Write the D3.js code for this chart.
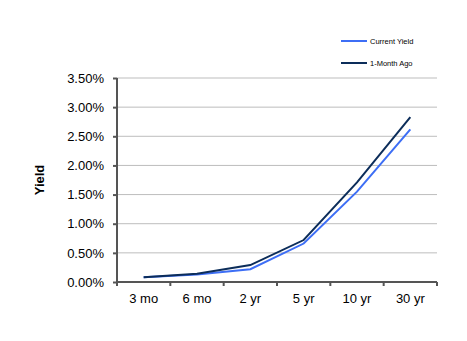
<!DOCTYPE html>
<html><head><meta charset="utf-8">
<script src="https://cdn.jsdelivr.net/npm/d3@7"></script>
<style>body{margin:0;background:#fff;}svg{display:block;font-family:"Liberation Sans",Arial,sans-serif;}</style>
</head><body><svg id="c" width="467" height="341"></svg>
<script>
const categories = ["3 mo","6 mo","2 yr","5 yr","10 yr","30 yr"];
const currentYield = [0.08,0.13,0.22,0.66,1.55,2.62];
const monthAgo = [0.08,0.14,0.29,0.72,1.71,2.83];
const yTicks = [0,0.5,1,1.5,2,2.5,3,3.5];
const seriesNames = ["Current Yield","1-Month Ago"];
const colors = ["#3d6ef5","#0c2d5a"];

const svg = d3.select("#c");
const L=117,R=437,T=78,B=282;
const x = d3.scaleBand().domain(categories).range([L,R]);
const y = d3.scaleLinear().domain([0,3.5]).range([B,T]);

svg.append("g").selectAll("line").data(yTicks.slice(1)).join("line")
  .attr("x1",L).attr("x2",R).attr("y1",d=>y(d)).attr("y2",d=>y(d))
  .attr("stroke","#bdbdbd").attr("stroke-width",1);

const ya = svg.append("g").attr("transform",`translate(${L},0)`)
  .call(d3.axisLeft(y).tickValues(yTicks).tickFormat(d=>d.toFixed(2)+"%").tickSize(4).tickPadding(9));
const xa = svg.append("g").attr("transform",`translate(0,${B})`)
  .call(d3.axisBottom(x).tickSize(4).tickPadding(8));
xa.selectAll(".tick line").remove();
xa.append("g").selectAll("line").data(d3.range(categories.length+1)).join("line")
  .attr("x1",i=>L+i*x.step()).attr("x2",i=>L+i*x.step()).attr("y1",0).attr("y2",4)
  .attr("stroke","#555").attr("stroke-width",2);
[ya,xa].forEach(a=>{
  a.selectAll(".domain").attr("stroke","#555").attr("stroke-width",2);
  a.selectAll(".tick line").attr("stroke","#555").attr("stroke-width",2);
  a.selectAll("text").attr("font-size",13).attr("fill","#000").attr("font-family","Liberation Sans, Arial, sans-serif");
});
ya.select(".domain").attr("d",`M0,${T}V${B}`);
xa.select(".domain").attr("d",`M${L},0H${R}`);

const line = d3.line().x((d,i)=>x(categories[i])+x.bandwidth()/2).y(d=>y(d));
[currentYield,monthAgo].forEach((s,k)=>{
  svg.append("path").datum(s).attr("d",line).attr("fill","none")
    .attr("stroke",colors[k]).attr("stroke-width",2);
});

svg.append("text").attr("transform","translate(44,180) rotate(-90)")
  .attr("text-anchor","middle").attr("font-size",13).attr("font-weight","bold").text("Yield");

const lg = svg.append("g");
seriesNames.forEach((n,k)=>{
  const yy = 41 + k*22;
  lg.append("line").attr("x1",341).attr("x2",367).attr("y1",yy).attr("y2",yy)
    .attr("stroke",colors[k]).attr("stroke-width",2);
  lg.append("text").attr("x",370).attr("y",yy+2.5).attr("font-size",7.5).text(n);
});
</script></body></html>
